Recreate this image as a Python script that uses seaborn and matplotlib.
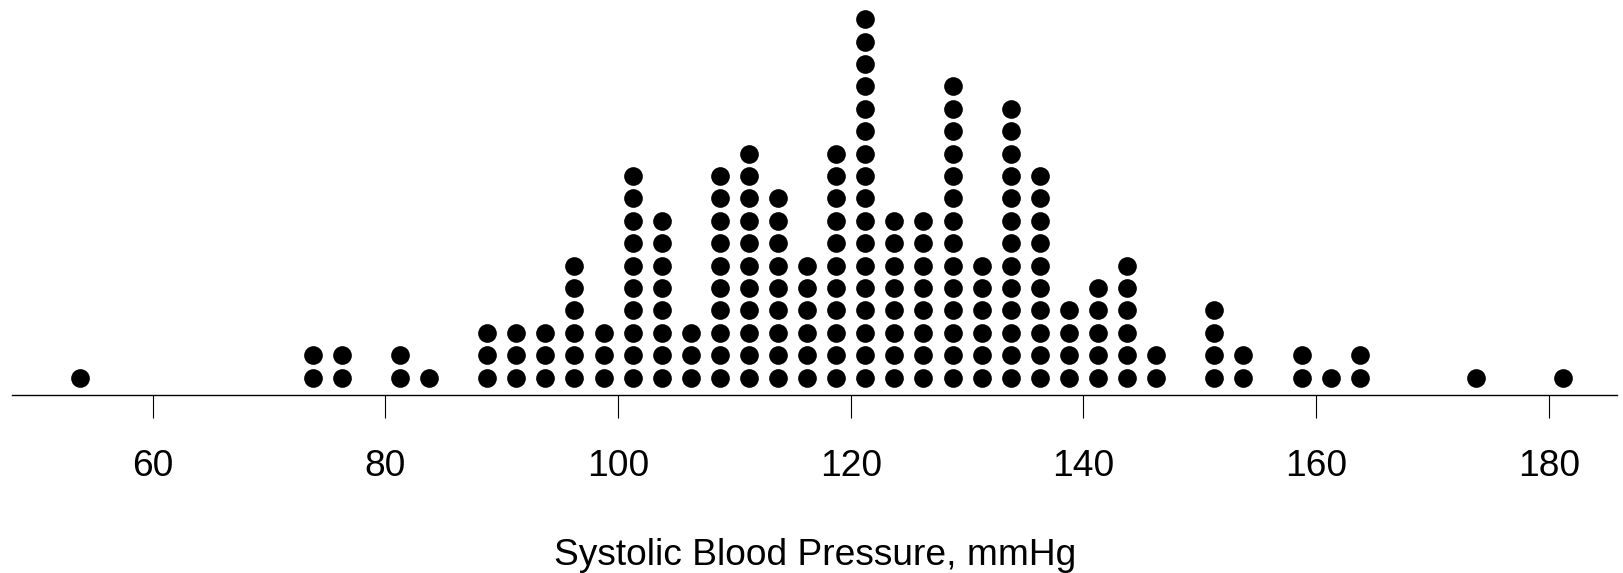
import matplotlib
matplotlib.use("Agg")
import matplotlib.pyplot as plt
import seaborn as sns
import pandas as pd

# Bin centres (mmHg) and number of stacked dots in each bin
bp_values = [53.75, 73.75, 76.25, 81.25, 83.75, 88.75, 91.25, 93.75, 96.25, 98.75,
             101.25, 103.75, 106.25, 108.75, 111.25, 113.75, 116.25, 118.75, 121.25,
             123.75, 126.25, 128.75, 131.25, 133.75, 136.25, 138.75, 141.25, 143.75,
             146.25, 151.25, 153.75, 158.75, 161.25, 163.75, 173.75, 181.25]
bp_counts = [1, 2, 2, 2, 1, 3, 3, 3, 6, 3,
             10, 8, 3, 10, 11, 9, 6, 11, 17,
             8, 8, 14, 6, 13, 10, 4, 5, 6,
             2, 4, 2, 2, 1, 2, 1, 1]
tick_values = [60, 80, 100, 120, 140, 160, 180]
x_label = "Systolic Blood Pressure, mmHg"

rows = []
for v, c in zip(bp_values, bp_counts):
    for k in range(c):
        rows.append({"bp": v, "stack": k})
df = pd.DataFrame(rows)

sns.set_style("white")
plt.rcParams["font.family"] = ["Liberation Sans", "DejaVu Sans"]
plt.rcParams["text.color"] = "black"
plt.rcParams["axes.labelcolor"] = "black"

W, H = 1623, 573
fig = plt.figure(figsize=(W / 100, H / 100), dpi=100)
ax = fig.add_axes([12.3 / W, (H - 395) / H, 1604.7 / W, 395 / H])

sns.scatterplot(data=df, x="bp", y="stack", ax=ax, color="black", s=181,
                linewidth=0, marker="o", clip_on=False, legend=False)

ax.set_xlim(47.93, 185.87)
ax.set_ylim(-0.772, 16.86)

for s in ["top", "left", "right"]:
    ax.spines[s].set_visible(False)
ax.spines["bottom"].set_linewidth(1.0)
ax.spines["bottom"].set_color("black")

ax.set_yticks([])
ax.set_ylabel("")
ax.set_xticks(tick_values)
ax.set_xticklabels([str(t) for t in tick_values])
ax.tick_params(axis="x", direction="out", length=16.6, width=0.8, pad=22.0,
               labelsize=26.7, colors="black", labelcolor="black", bottom=True)
ax.set_xlabel(x_label, fontsize=26.7, labelpad=39.5, color="black")
ax.set_facecolor("white")

fig.savefig("out.png", dpi=100, facecolor="white")
